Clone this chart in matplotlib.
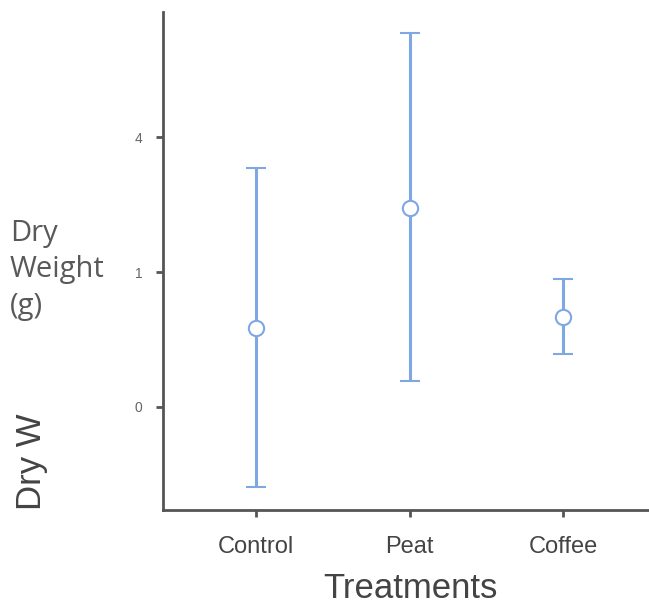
import matplotlib
matplotlib.use("Agg")
import matplotlib.pyplot as plt

# ============================================================
# DADOS
# ============================================================

TREATMENTS = ["Control", "Peat", "Coffee"]
MEANS = [0.585, 1.474, 0.667]
LOWER = [-0.593, 0.193, 0.393]
UPPER = [1.770, 2.770, 0.948]

Y_TICKS = [0, 1, 2]
Y_TICK_LABELS = ["0", "1", "4"]

BLUE = "#7fa7e3"
GRAY = "#555555"

# ============================================================
# FIGURA
# ============================================================

fig = plt.figure(figsize=(6.49, 6.15), dpi=100)
ax = fig.add_axes([163 / 649, 1 - 510 / 615, (649 - 163) / 649, (510 - 12) / 615])

x = list(range(len(TREATMENTS)))
err_low = [m - lo for m, lo in zip(MEANS, LOWER)]
err_high = [hi - m for m, hi in zip(MEANS, UPPER)]

ax.errorbar(
    x, MEANS, yerr=[err_low, err_high],
    fmt="o", color=BLUE, ecolor=BLUE, elinewidth=2.2, capsize=7, capthick=2.2,
    markersize=11, markerfacecolor="white", markeredgecolor=BLUE, markeredgewidth=1.5,
)

ax.set_xlim(-0.606, 2.56)
ax.set_ylim(-0.763, 2.926)

ax.set_xticks(x)
ax.set_xticklabels(TREATMENTS, fontsize=17, color="#444444", family="Liberation Sans")
ax.set_yticks(Y_TICKS)
ax.set_yticklabels(Y_TICK_LABELS, fontsize=10, color="#666666", family="Liberation Sans")

ax.tick_params(axis="both", direction="out", length=5, width=2, color=GRAY)
ax.tick_params(axis="y", pad=10)
ax.tick_params(axis="x", pad=14)

for side in ["top", "right"]:
    ax.spines[side].set_visible(False)
for side in ["left", "bottom"]:
    ax.spines[side].set_color(GRAY)
    ax.spines[side].set_linewidth(2)

# rótulos
fig.text(410 / 649, 1 - 588 / 615, "Treatments", fontsize=25, color="#444444",
         family="Liberation Sans", ha="center", va="center")
fig.text(32 / 649, 1 - 510 / 615, "Dry W", fontsize=25, color="#444444",
         family="Liberation Sans", rotation=90, ha="center", va="bottom")
fig.text(10 / 649, 1 - 270 / 615, "Dry\nWeight\n(g)", fontsize=21, color="#595959",
         family="Open Sans", ha="left", va="center", linespacing=1.35)

fig.savefig("out.png", dpi=100)
